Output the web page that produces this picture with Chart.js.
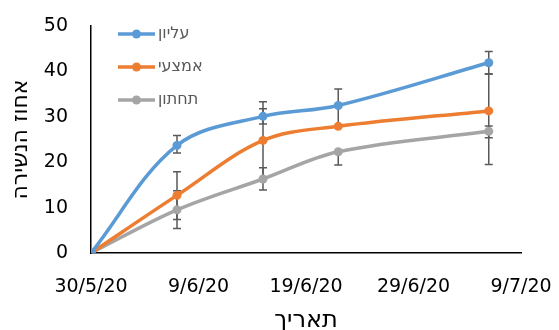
<!DOCTYPE html>
<html>
<head>
<meta charset="utf-8">
<script src="https://cdn.jsdelivr.net/npm/chart.js@4"></script>
<style>
  html, body { margin: 0; padding: 0; background: #fff; }
</style>
</head>
<body>
<canvas id="dropoutChart" width="559" height="330"></canvas>
<script>
// Data Block
const dates = ["2020-05-30", "2020-06-07", "2020-06-15", "2020-06-22", "2020-07-06"];
const xTickDays = [0, 10, 20, 30, 40];

const upperVals = [0, 23.7, 30.1, 32.5, 41.9];
const middleVals = [0, 12.7, 24.8, 27.9, 31.3];
const lowerVals = [0, 9.5, 16.3, 22.3, 26.8];

// error bar ends (low / high)
const upperLow = [null, 22.0, 28.4, 27.8, 39.4];
const upperHigh = [null, 25.9, 31.8, 36.1, 44.4];
const middleLow = [null, 7.4, 16.4, 27.8, 19.5];
const middleHigh = [null, 17.9, 33.3, 27.8, 39.4];
const lowerLow = [null, 5.4, 13.9, 19.4, 25.4];
const lowerHigh = [null, 13.7, 18.8, 22.2, 28.0];

const seriesNames = ["עליון", "אמצעי", "תחתון"];
const xTitle = "תאריך";
const yTitle = "אחוז הנשירה";

// days since the first date, for the linear x axis
const startMs = Date.UTC(2020, 4, 30);
function dayOf(s) {
  const p = s.split("-");
  return (Date.UTC(+p[0], +p[1] - 1, +p[2]) - startMs) / 86400000;
}
const xDays = dates.map(dayOf);

// Convert a day offset back to d/m/yy
function formatDay(d) {
  const dt = new Date(startMs + d * 86400000);
  return dt.getUTCDate() + "/" + (dt.getUTCMonth() + 1) + "/" + String(dt.getUTCFullYear()).slice(2);
}

function points(vals) {
  return vals.map((v, i) => ({ x: xDays[i], y: v }));
}

const FONT = "'DejaVu Sans', sans-serif";

function series(label, vals, lo, hi, color) {
  return {
    label: label,
    data: points(vals),
    errLow: lo,
    errHigh: hi,
    borderColor: color,
    backgroundColor: color,
    borderWidth: 3.5,
    pointRadius: 4.5,
    pointHoverRadius: 4.5,
    pointBorderWidth: 0,
    tension: 0.35,
    fill: false,
  };
}

const dropoutData = {
  datasets: [
    series(seriesNames[0], upperVals, upperLow, upperHigh, "#5B9BD5"),
    series(seriesNames[1], middleVals, middleLow, middleHigh, "#ED7D31"),
    series(seriesNames[2], lowerVals, lowerLow, lowerHigh, "#A5A5A5"),
  ],
};

// Error bars, drawn under the markers
const errorBars = {
  id: "errorBars",
  beforeDatasetsDraw(chart) {
    const ctx = chart.ctx;
    const xs = chart.scales.x;
    const ys = chart.scales.y;
    ctx.save();
    ctx.strokeStyle = "#595959";
    ctx.lineWidth = 1.5;
    chart.data.datasets.forEach((ds) => {
      ds.data.forEach((p, i) => {
        if (ds.errLow[i] == null) return;
        const x = xs.getPixelForValue(p.x);
        const y1 = ys.getPixelForValue(ds.errLow[i]);
        const y2 = ys.getPixelForValue(ds.errHigh[i]);
        ctx.beginPath();
        ctx.moveTo(x, y1);
        ctx.lineTo(x, y2);
        ctx.moveTo(x - 4, y1);
        ctx.lineTo(x + 4, y1);
        ctx.moveTo(x - 4, y2);
        ctx.lineTo(x + 4, y2);
        ctx.stroke();
      });
    });
    ctx.restore();
  },
};

// Legend inside the plot plus both axis titles
const labels = {
  id: "labels",
  afterDatasetsDraw(chart) {
    const ctx = chart.ctx;
    const a = chart.chartArea;
    ctx.save();
    ctx.textBaseline = "middle";
    chart.data.datasets.forEach((ds, i) => {
      const y = a.top + 8 + i * 33;
      const x0 = a.left + 27;
      ctx.strokeStyle = ds.borderColor;
      ctx.lineWidth = 3.5;
      ctx.beginPath();
      ctx.moveTo(x0, y);
      ctx.lineTo(x0 + 37, y);
      ctx.stroke();
      ctx.fillStyle = ds.borderColor;
      ctx.beginPath();
      ctx.arc(x0 + 18.5, y, 4.5, 0, Math.PI * 2);
      ctx.fill();
      ctx.font = "16px " + FONT;
      ctx.fillStyle = "#595959";
      ctx.textAlign = "left";
      ctx.fillText(ds.label, x0 + 40, y);
    });

    ctx.fillStyle = "#000";
    ctx.textAlign = "center";
    ctx.font = "24px " + FONT;
    ctx.fillText(xTitle, (a.left + a.right) / 2, 321);

    // y title, turned a quarter to the left
    ctx.font = "22px " + FONT;
    ctx.translate(21, (a.top + a.bottom) / 2);
    ctx.rotate(-Math.PI / 2);
    ctx.fillText(yTitle, 0, 0);
    ctx.restore();
  },
};

// drop the label overflow padding so the plot box stays where it is
function noOverflow(scale) {
  scale.paddingLeft = 0;
  scale.paddingRight = 0;
  scale.paddingTop = 0;
  scale.paddingBottom = 0;
}

// Config Block
const dropoutConfig = {
  type: "line",
  data: dropoutData,
  plugins: [errorBars, labels],
  options: {
    responsive: false,
    animation: false,
    devicePixelRatio: 1,
    layout: {
      autoPadding: false,
      padding: { top: 26, right: 38, left: 0, bottom: 0 },
    },
    plugins: {
      legend: { display: false },
      tooltip: { enabled: false },
    },
    scales: {
      x: {
        type: "linear",
        min: 0,
        max: 40,
        afterBuildTicks: (scale) => {
          scale.ticks = xTickDays.map((v) => ({ value: v }));
        },
        afterFit: (scale) => {
          scale.height = 77;
          noOverflow(scale);
        },
        grid: { display: false, drawTicks: false },
        border: { display: true, color: "#000", width: 1.5 },
        ticks: {
          padding: 23,
          color: "#000",
          maxRotation: 0,
          font: { family: FONT, size: 19 },
          callback: (v) => formatDay(v),
        },
      },
      y: {
        min: 0,
        max: 50,
        afterFit: (scale) => {
          scale.width = 91;
          noOverflow(scale);
        },
        grid: { display: false, drawTicks: false },
        border: { display: true, color: "#000", width: 1.5 },
        ticks: {
          stepSize: 10,
          padding: 23,
          color: "#000",
          font: { family: FONT, size: 19 },
        },
      },
    },
  },
};

// Render Block
const dropoutChart = new Chart(document.getElementById("dropoutChart"), dropoutConfig);
</script>
</body>
</html>
